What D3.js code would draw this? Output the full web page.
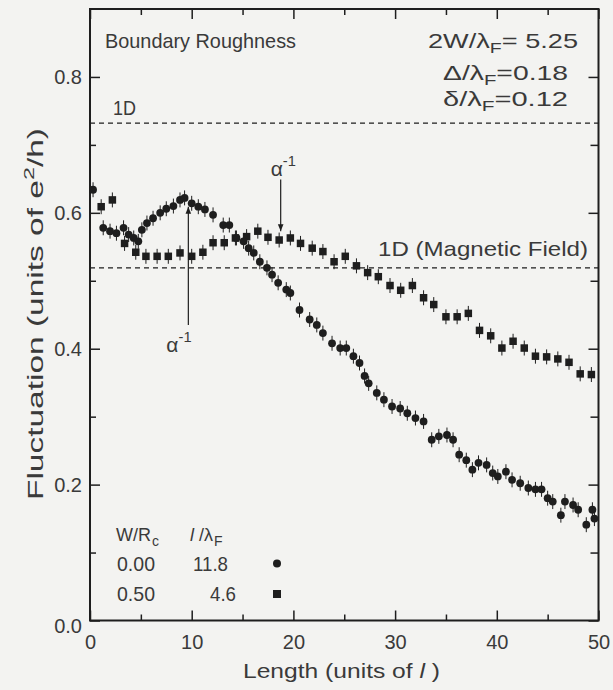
<!DOCTYPE html>
<html>
<head>
<meta charset="utf-8">
<script src="https://cdn.jsdelivr.net/npm/d3@7"></script>
<style>
  html, body { margin: 0; padding: 0; background: #f3f3f1; }
  svg { display: block; }
  text { font-family: "Liberation Sans", Arial, sans-serif; fill: #3a3a3a; }
</style>
</head>
<body>
<svg id="chart" width="613" height="690"></svg>
<script>
// ---------------- data ----------------
// Series 1: W/Rc = 0.00, l/lambdaF = 11.8 (circles)
const circleX = [0.3, 1.3, 1.97, 2.6, 3.3, 3.8, 4.3, 4.75, 5.1, 5.6, 6.2, 6.9, 7.5, 8.2, 8.85, 9.3,
  10.0, 10.65, 11.3, 12.1, 13.1, 13.7, 14.4, 15.1, 15.6, 16.1, 16.7, 17.4, 17.9, 18.5, 19.3, 19.7,
  20.6, 21.6, 22.3, 22.9, 23.8, 24.6, 25.2, 25.9, 26.5, 27.0, 27.4, 28.2, 28.9, 29.7, 30.5, 31.2,
  32.0, 32.8, 33.6, 34.3, 35.1, 35.7, 36.3, 37.0, 37.6, 38.2, 39.0, 39.6, 40.1, 40.9, 41.5, 42.3,
  43.1, 43.8, 44.4, 45.0, 45.5, 46.3, 46.7, 47.5, 48.0, 48.8, 49.4, 49.6];
const circleY = [0.634, 0.578, 0.573, 0.570, 0.578, 0.568, 0.563, 0.558, 0.575, 0.585, 0.592, 0.600, 0.606, 0.610, 0.619, 0.622,
  0.614, 0.609, 0.605, 0.597, 0.582, 0.582, 0.563, 0.558, 0.548, 0.541, 0.528, 0.519, 0.509, 0.497, 0.487, 0.482,
  0.457, 0.443, 0.435, 0.423, 0.408, 0.401, 0.401, 0.389, 0.379, 0.360, 0.349, 0.335, 0.325, 0.315, 0.312, 0.305,
  0.298, 0.293, 0.266, 0.271, 0.273, 0.266, 0.244, 0.236, 0.222, 0.232, 0.229, 0.217, 0.212, 0.219, 0.207, 0.202,
  0.195, 0.193, 0.193, 0.180, 0.175, 0.155, 0.175, 0.170, 0.163, 0.141, 0.163, 0.150];

// Series 2: W/Rc = 0.50, l/lambdaF = 4.6 (squares)
const squareX = [1.1, 2.2, 3.4, 4.5, 5.5, 6.6, 7.7, 8.85, 10.0, 11.1, 12.1, 13.2, 14.3, 15.4, 16.5, 17.5,
  18.6, 19.7, 20.7, 21.85, 22.9, 24.0, 25.1, 26.2, 27.3, 28.35, 29.5, 30.55, 31.7, 32.8, 33.8, 35.0,
  36.1, 37.2, 38.3, 39.4, 40.5, 41.6, 42.7, 43.8, 44.9, 46.0, 47.1, 48.2, 49.3];
const squareY = [0.609, 0.619, 0.555, 0.542, 0.536, 0.536, 0.536, 0.541, 0.536, 0.542, 0.556, 0.556, 0.563, 0.565, 0.573, 0.564,
  0.560, 0.563, 0.555, 0.548, 0.543, 0.528, 0.536, 0.522, 0.512, 0.506, 0.493, 0.486, 0.493, 0.475, 0.465, 0.447,
  0.447, 0.452, 0.427, 0.419, 0.401, 0.411, 0.401, 0.389, 0.388, 0.385, 0.380, 0.363, 0.362];

const errHalf = 0.011;               // half-length of error bars
const refLines = [0.732, 0.519];     // 1D and 1D (Magnetic Field) levels
const xMajor = [0, 10, 20, 30, 40, 50];
const xMinor = [5, 15, 25, 35, 45];
const yMajor = [0.0, 0.2, 0.4, 0.6, 0.8];
const yMinor = [0.1, 0.3, 0.5, 0.7];
const yTickLabels = ["0.0", "0.2", "0.4", "0.6", "0.8"];
const xTickLabels = ["0", "10", "20", "30", "40", "50"];
const arrows = [ {x: 18.75, y0: 0.649, y1: 0.573}, {x: 9.67, y0: 0.435, y1: 0.609} ];

// ---------------- layout ----------------
const svg = d3.select("#chart");
const L = 90, R = 598.5, T = 9, B = 620.5;
const x = d3.scaleLinear().domain([0, 50]).range([L, R]);
const y = d3.scaleLinear().domain([0, 0.9]).range([B, T]);
const ink = "#1e1e1e";

// frame
svg.append("rect").attr("x", L).attr("y", T).attr("width", R - L).attr("height", B - T)
  .attr("fill", "none").attr("stroke", ink).attr("stroke-width", 2);

// axes with inward ticks
function addAxis(axisGen, tx, ty, vals, size, labels) {
  const g = svg.append("g").attr("transform", `translate(${tx},${ty})`)
    .call(axisGen.tickValues(vals).tickSizeInner(-size).tickSizeOuter(0)
      .tickFormat(labels ? (d, i) => labels[i] : () => ""));
  g.select(".domain").remove();
  g.selectAll(".tick line").attr("stroke", ink).attr("stroke-width", 1.5);
  return g;
}
const gb = addAxis(d3.axisBottom(x), 0, B, xMajor, 10, xTickLabels);
addAxis(d3.axisBottom(x), 0, B, xMinor, 6, null);
addAxis(d3.axisTop(x), 0, T, xMajor, 10, null);
addAxis(d3.axisTop(x), 0, T, xMinor, 6, null);
const gl = addAxis(d3.axisLeft(y), L, 0, yMajor, 10, yTickLabels);
addAxis(d3.axisLeft(y), L, 0, yMinor, 6, null);
addAxis(d3.axisRight(y), R, 0, yMajor, 10, null);
addAxis(d3.axisRight(y), R, 0, yMinor, 8, null);
svg.selectAll(".tick text").attr("font-size", 20).attr("fill", "#3a3a3a")
  .style("font-family", '"Liberation Sans", Arial, sans-serif');
gb.selectAll(".tick text").attr("dy", "1.25em");
gl.selectAll(".tick text").attr("x", -8);
gl.selectAll(".tick text").filter(d => d === 0).attr("dy", "0.62em");

// dashed reference lines
svg.selectAll(".ref").data(refLines).enter().append("line")
  .attr("x1", x(0)).attr("x2", x(50)).attr("y1", d => y(d)).attr("y2", d => y(d))
  .attr("stroke", ink).attr("stroke-width", 1.4).attr("stroke-dasharray", "5,4");

// data
const circles = circleX.map((d, i) => ({x: d, y: circleY[i]}));
const squares = squareX.map((d, i) => ({x: d, y: squareY[i]}));
const eb = svg.append("g").attr("stroke", ink).attr("stroke-width", 1);
eb.selectAll("line.c").data(circles.concat(squares)).enter().append("line")
  .attr("x1", d => x(d.x)).attr("x2", d => x(d.x))
  .attr("y1", d => y(d.y - errHalf)).attr("y2", d => y(d.y + errHalf));
const sq = 7.5;
svg.append("g").selectAll("rect").data(squares).enter().append("rect")
  .attr("x", d => x(d.x) - sq / 2).attr("y", d => y(d.y) - sq / 2)
  .attr("width", sq).attr("height", sq).attr("fill", ink);
svg.append("g").selectAll("circle").data(circles).enter().append("circle")
  .attr("cx", d => x(d.x)).attr("cy", d => y(d.y)).attr("r", 3.9).attr("fill", ink);

// arrows
const defs = svg.append("defs");
defs.append("marker").attr("id", "ah").attr("viewBox", "0 0 10 10").attr("refX", 10).attr("refY", 5)
  .attr("markerWidth", 7).attr("markerHeight", 7).attr("markerUnits", "userSpaceOnUse")
  .attr("orient", "auto").append("path").attr("d", "M0,1 L10,5 L0,9 Z").attr("fill", ink);
svg.selectAll(".arr").data(arrows).enter().append("line")
  .attr("x1", d => x(d.x)).attr("x2", d => x(d.x)).attr("y1", d => y(d.y0)).attr("y2", d => y(d.y1))
  .attr("stroke", ink).attr("stroke-width", 1.2).attr("marker-end", "url(#ah)");

// ---------------- text ----------------
function txt(px, py, size, len) {
  const t = svg.append("text").attr("x", px).attr("y", py).attr("font-size", size);
  if (len) t.attr("textLength", len).attr("lengthAdjust", "spacingAndGlyphs");
  return t;
}
function sub(t, s) { t.append("tspan").attr("font-size", "0.72em").attr("dy", 5).text(s); }

txt(105, 48, 21, 191).text("Boundary Roughness");

let t = txt(428, 48, 21, 150); t.append("tspan").text("2W/λ"); sub(t, "F");
t.append("tspan").attr("dy", -5).text("= 5.25");
t = txt(443, 80, 21, 125); t.append("tspan").text("Δ/λ"); sub(t, "F");
t.append("tspan").attr("dy", -5).text("=0.18");
t = txt(443, 106, 21, 125); t.append("tspan").text("δ/λ"); sub(t, "F");
t.append("tspan").attr("dy", -5).text("=0.12");

txt(113, 115, 21, 23).text("1D");
txt(378, 256, 21, 210).text("1D (Magnetic Field)");

function alpha(px, py) {
  const a = txt(px, py, 21);
  a.append("tspan").text("α");
  a.append("tspan").attr("font-size", "0.7em").attr("dy", -10).text("-1");
}
alpha(x(18.75) - 10, 176);
alpha(x(9.67) - 22, 352);

// legend (header pieces as separate texts, natural widths so they do not collide)
txt(116, 541, 18).text("W/R");
txt(152, 546, 14).text("c");
t = txt(190, 541, 18); t.append("tspan").attr("font-style", "italic").text("l");
t.append("tspan").text(" /λ");
txt(214, 546, 14).text("F");
txt(117, 571, 21, 38).text("0.00");
txt(193, 571, 21, 35).text("11.8");
txt(117, 601, 21, 38).text("0.50");
txt(210, 601, 21, 26).text("4.6");
svg.append("circle").attr("cx", 277).attr("cy", 563.5).attr("r", 4).attr("fill", ink);
svg.append("rect").attr("x", 277 - 4).attr("y", 594 - 4).attr("width", 8).attr("height", 8).attr("fill", ink);

// axis titles
t = txt((243 + 440) / 2, 678, 21, 197).attr("text-anchor", "middle");
t.append("tspan").text("Length (units of ");
t.append("tspan").attr("font-style", "italic").text("l");
t.append("tspan").text(" )");

t = svg.append("text").attr("transform", "translate(43,314) rotate(-90)")
  .attr("text-anchor", "middle").attr("font-size", 22)
  .attr("textLength", 372).attr("lengthAdjust", "spacingAndGlyphs");
t.append("tspan").text("Fluctuation (units of e");
t.append("tspan").attr("font-size", "0.7em").attr("dy", -9).text("2");
t.append("tspan").attr("dy", 9).text("/h)");
</script>
</body>
</html>
